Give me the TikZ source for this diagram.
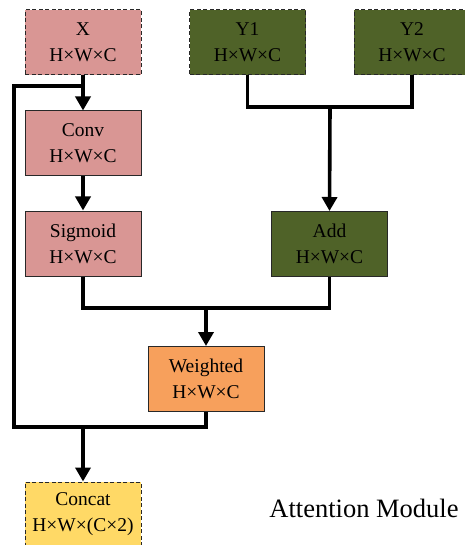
\documentclass[tikz,border=0pt]{standalone}
\usepackage{fontspec}
\setmainfont{Liberation Serif}
\usepackage{xcolor}
\usepackage{tikz}
\usetikzlibrary{arrows.meta, positioning}
\definecolor{RoseFill}{RGB}{217,150,148}
\definecolor{OliveFill}{RGB}{79,98,40}
\definecolor{OrangeFill}{RGB}{247,160,92}
\definecolor{GoldFill}{RGB}{255,217,102}
\definecolor{EdgeGray}{RGB}{40,40,40}

\begin{document}
\begin{tikzpicture}[x=1pt, y=-1pt,
  blk/.style={draw=EdgeGray, line width=1pt, minimum width=116pt, minimum height=65pt,
    inner sep=0pt, align=center, font=\fontsize{19.5}{26}\selectfont},
  io/.style={blk, dash pattern=on 4pt off 2.5pt},
  wire/.style={line width=3.6pt, line join=miter},
  arr/.style={wire, -{Triangle[width=15pt,length=14pt]}}]
  \useasboundingbox (0,0) rectangle (464,545);
  % input and output boxes
  \node[io, fill=RoseFill]  (x)  at (83,42.5)  {X\\H×W×C};
  \node[io, fill=OliveFill] (y1) at (247.5,42.5) {Y1\\H×W×C};
  \node[io, fill=OliveFill] (y2) at (412,42.5) {Y2\\H×W×C};
  \node[io, fill=GoldFill]  (concat) at (83,514.5) {Concat\\H×W×(C×2)};
  % inner blocks
  \node[blk, fill=RoseFill]   (conv)     at (83,143.5)  {Conv\\H×W×C};
  \node[blk, fill=RoseFill]   (sigmoid)  at (83,243.5)  {Sigmoid\\H×W×C};
  \node[blk, fill=OliveFill]  (add)      at (329.5,244) {Add\\H×W×C};
  \node[blk, fill=OrangeFill] (weighted) at (206,379)   {Weighted\\H×W×C};
  \node[font=\fontsize{26.5}{30}\selectfont] (title) at (364,508) {Attention Module};
  % junctions
  \coordinate (tap)  at (83,86);
  \coordinate (ysum) at (330,107);
  \coordinate (wsum) at (206,308);
  \coordinate (fuse) at (83,427);
  % connectors
  \draw[arr] (x.south) -- (conv.north);
  \draw[arr] (conv.south) -- (sigmoid.north);
  \draw[wire] (y1.south) |- (ysum) -| (y2.south);
  \draw[arr] (ysum) -- (add.north);
  \draw[wire] (sigmoid.south) |- (wsum) -| (add.south);
  \draw[arr] (wsum) -- (weighted.north);
  \draw[wire] (tap) -- ++(-69,0) |- (fuse) -| (weighted.south);
  \draw[arr] (fuse) -- (concat.north);
\end{tikzpicture}
\end{document}
